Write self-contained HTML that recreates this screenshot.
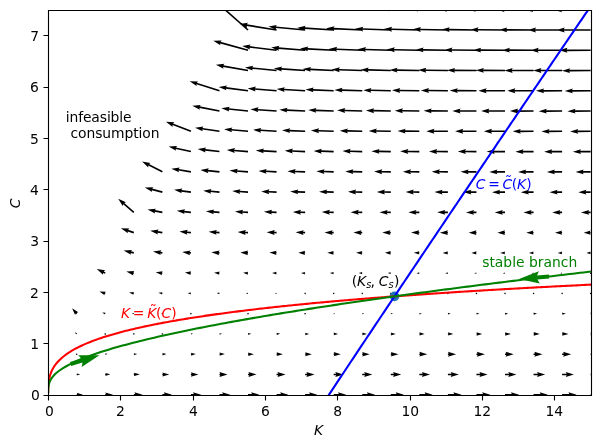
<!DOCTYPE html>
<html lang="en"><head><meta charset="utf-8"><title>Phase diagram</title>
<style>html,body{margin:0;padding:0;background:#fff}svg{display:block;will-change:transform}text{font-family:'DejaVu Sans','Liberation Sans',sans-serif;font-size:13.8889px;white-space:pre}.i{font-style:oblique}</style></head><body>
<svg width="600" height="448" viewBox="0 0 600 448">
<rect width="600" height="448" fill="#fff"/>
<clipPath id="ax"><rect x="48" y="10" width="543" height="385"/></clipPath>
<g clip-path="url(#ax)">
<path fill="#000" d="M76.71 394.1L77.33 394.1L76.71 392.85L82.95 394.72L76.71 396.6L77.33 395.35L76.71 395.35L76.71 394.1ZM105.26 393.94L106.04 393.94L105.26 392.39L113.03 394.72L105.26 397.05L106.04 395.5L105.26 395.5L105.26 393.94ZM133.81 393.91L135.29 393.91L134.48 392.28L142.62 394.72L134.48 397.16L135.29 395.54L133.81 395.54L133.81 393.91ZM162.36 393.91L164.65 393.91L163.83 392.28L171.97 394.72L163.83 397.16L164.65 395.54L162.36 395.54L162.36 393.91ZM190.92 393.91L193.86 393.91L193.05 392.28L201.18 394.72L193.05 397.16L193.86 395.54L190.92 395.54L190.92 393.91ZM219.47 393.91L222.97 393.91L222.16 392.28L230.3 394.72L222.16 397.16L222.97 395.54L219.47 395.54L219.47 393.91ZM248.02 393.91L252.02 393.91L251.2 392.28L259.34 394.72L251.2 397.16L252.02 395.54L248.02 395.54L248.02 393.91ZM276.57 393.91L281.01 393.91L280.19 392.28L288.33 394.72L280.19 397.16L281.01 395.54L276.57 395.54L276.57 393.91ZM305.13 393.91L309.95 393.91L309.14 392.28L317.27 394.72L309.14 397.16L309.95 395.54L305.13 395.54L305.13 393.91ZM333.68 393.91L338.86 393.91L338.05 392.28L346.18 394.72L338.05 397.16L338.86 395.54L333.68 395.54L333.68 393.91ZM362.23 393.91L367.74 393.91L366.92 392.28L375.06 394.72L366.92 397.16L367.74 395.54L362.23 395.54L362.23 393.91ZM390.78 393.91L396.59 393.91L395.78 392.28L403.91 394.72L395.78 397.16L396.59 395.54L390.78 395.54L390.78 393.91ZM419.34 393.91L425.42 393.91L424.61 392.28L432.74 394.72L424.61 397.16L425.42 395.54L419.34 395.54L419.34 393.91ZM447.89 393.91L454.23 393.91L453.42 392.28L461.55 394.72L453.42 397.16L454.23 395.54L447.89 395.54L447.89 393.91ZM476.44 393.91L483.03 393.91L482.21 392.28L490.35 394.72L482.21 397.16L483.03 395.54L476.44 395.54L476.44 393.91ZM504.99 393.91L511.8 393.91L510.99 392.28L519.13 394.72L510.99 397.16L511.8 395.54L504.99 395.54L504.99 393.91ZM533.55 393.91L540.57 393.91L539.75 392.28L547.89 394.72L539.75 397.16L540.57 395.54L533.55 395.54L533.55 393.91ZM562.1 393.91L569.32 393.91L568.51 392.28L576.64 394.72L568.51 397.16L569.32 395.54L562.1 395.54L562.1 393.91ZM590.65 393.91L598.06 393.91L597.25 392.28L605.39 394.72L597.25 397.16L598.06 395.54L590.65 395.54L590.65 393.91ZM76.68 374.11L77.03 374.08L76.63 373.4L80.24 374.21L76.78 375.52L77.08 374.79L76.73 374.81L76.68 374.11ZM105.24 373.95L105.75 373.94L105.21 372.94L110.32 374.31L105.3 375.98L105.78 374.95L105.27 374.97L105.24 373.95ZM133.8 373.85L134.41 373.84L133.78 372.63L139.91 374.36L133.84 376.29L134.43 375.06L133.82 375.07L133.8 373.85ZM162.36 373.77L163.05 373.76L162.34 372.39L169.26 374.39L162.38 376.53L163.06 375.14L162.37 375.15L162.36 373.77ZM190.91 373.7L191.67 373.7L190.9 372.19L198.47 374.41L190.93 376.73L191.68 375.21L190.92 375.21L190.91 373.7ZM219.47 373.65L220.28 373.64L219.46 372.02L227.59 374.42L219.48 376.89L220.28 375.27L219.47 375.27L219.47 373.65ZM248.02 373.65L249.3 373.64L248.48 372.02L256.63 374.43L248.5 376.9L249.31 375.27L248.02 375.27L248.02 373.65ZM276.57 373.65L278.29 373.64L277.48 372.02L285.62 374.44L277.48 376.9L278.29 375.27L276.58 375.27L276.57 373.65ZM305.13 373.65L307.24 373.64L306.42 372.02L314.56 374.45L306.43 376.9L307.24 375.27L305.13 375.27L305.13 373.65ZM333.68 373.65L336.15 373.64L335.33 372.02L343.47 374.46L335.33 376.9L336.15 375.27L333.68 375.27L333.68 373.65ZM362.23 373.65L365.03 373.65L364.21 372.02L372.35 374.46L364.21 376.9L365.02 375.27L362.23 375.27L362.23 373.65ZM390.79 373.65L393.88 373.65L393.07 372.02L401.2 374.47L393.06 376.9L393.88 375.28L390.78 375.27L390.79 373.65ZM419.34 373.65L422.71 373.65L421.9 372.02L430.03 374.47L421.89 376.9L422.71 375.28L419.34 375.27L419.34 373.65ZM447.89 373.65L451.52 373.65L450.71 372.02L458.84 374.48L450.7 376.9L451.52 375.28L447.89 375.27L447.89 373.65ZM476.44 373.65L480.31 373.65L479.5 372.02L487.64 374.48L479.49 376.91L480.31 375.28L476.44 375.27L476.44 373.65ZM505 373.65L509.09 373.65L508.28 372.02L516.41 374.48L508.27 376.91L509.09 375.28L504.99 375.27L505 373.65ZM533.55 373.65L537.86 373.65L537.05 372.03L545.18 374.48L537.04 376.91L537.85 375.28L533.55 375.27L533.55 373.65ZM562.1 373.65L566.61 373.66L565.8 372.03L573.93 374.49L565.79 376.91L566.61 375.28L562.1 375.27L562.1 373.65ZM590.65 373.65L595.35 373.66L594.54 372.03L602.67 374.49L594.53 376.91L595.35 375.28L590.65 375.27L590.65 373.65ZM77.33 353.68L76.57 353.39L75.94 353.91L76.08 354.71L76.84 355L77.47 354.48L77.33 353.68L76.57 353.39ZM105.22 353.96L105.46 353.93L105.15 353.49L107.61 353.85L105.36 354.9L105.53 354.4L105.29 354.43L105.22 353.96ZM133.79 353.86L134.13 353.83L133.74 353.18L137.19 353.97L133.88 355.21L134.17 354.51L133.83 354.53L133.79 353.86ZM162.35 353.78L162.77 353.76L162.32 352.94L166.55 354.04L162.41 355.45L162.8 354.6L162.38 354.61L162.35 353.78ZM190.9 353.71L191.39 353.7L190.88 352.74L195.76 354.08L190.95 355.65L191.41 354.67L190.93 354.68L190.9 353.71ZM219.46 353.66L220 353.65L219.44 352.57L224.87 354.11L219.49 355.82L220.02 354.73L219.48 354.74L219.46 353.66ZM248.02 353.61L248.6 353.6L248 352.43L253.92 354.14L248.04 355.96L248.62 354.78L248.03 354.79L248.02 353.61ZM276.57 353.56L277.2 353.56L276.56 352.3L282.9 354.16L276.59 356.1L277.21 354.83L276.58 354.83L276.57 353.56ZM305.12 353.52L305.8 353.52L305.12 352.18L311.85 354.17L305.13 356.21L305.8 354.87L305.13 354.87L305.12 353.52ZM333.68 353.49L334.39 353.49L333.68 352.07L340.76 354.19L333.68 356.32L334.39 354.9L333.68 354.9L333.68 353.49ZM362.23 353.46L362.97 353.46L362.23 351.97L369.64 354.2L362.23 356.42L362.97 354.94L362.23 354.94L362.23 353.46ZM390.79 353.43L391.56 353.43L390.79 351.88L398.49 354.21L390.78 356.51L391.55 354.97L390.78 354.97L390.79 353.43ZM419.34 353.4L420.14 353.4L419.34 351.8L427.32 354.22L419.33 356.59L420.13 355L419.33 354.99L419.34 353.4ZM447.89 353.38L448.81 353.39L448 351.76L456.13 354.22L447.98 356.64L448.8 355.01L447.89 355.01L447.89 353.38ZM476.45 353.38L477.6 353.39L476.8 351.76L484.92 354.23L476.78 356.64L477.6 355.01L476.44 355.01L476.45 353.38ZM505 353.38L506.38 353.39L505.58 351.76L513.7 354.24L505.55 356.64L506.37 355.02L504.99 355.01L505 353.38ZM533.55 353.38L535.15 353.39L534.34 351.76L542.47 354.24L534.32 356.64L535.14 355.02L533.54 355.01L533.55 353.38ZM562.1 353.38L563.9 353.39L563.1 351.76L571.22 354.25L563.07 356.64L563.89 355.02L562.1 355.01L562.1 353.38ZM590.66 353.38L592.64 353.39L591.84 351.76L599.96 354.25L591.81 356.64L592.63 355.02L590.65 355.01L590.66 353.38ZM76.55 334.12L76.36 333.97L76.24 334.5L74.82 332.37L77.17 333.37L76.67 333.59L76.86 333.74L76.55 334.12ZM104.86 333.22L104.44 333.92L104.84 334.63L105.65 334.64L106.07 333.94L105.68 333.23L104.86 333.22L104.44 333.92ZM134.51 333.51L133.79 333.12L133.1 333.54L133.11 334.35L133.83 334.75L134.52 334.32L134.51 333.51L133.79 333.12ZM163.16 333.78L162.63 333.16L161.83 333.32L161.56 334.08L162.1 334.7L162.89 334.55L163.16 333.78L162.63 333.16ZM190.9 333.72L191.11 333.7L190.86 333.29L193.05 333.73L190.98 334.57L191.15 334.13L190.94 334.15L190.9 333.72ZM219.45 333.66L219.72 333.65L219.43 333.13L222.16 333.79L219.51 334.74L219.75 334.19L219.48 334.2L219.45 333.66ZM248.01 333.61L248.33 333.6L247.99 332.98L251.2 333.83L248.05 334.89L248.35 334.24L248.03 334.25L248.01 333.61ZM276.57 333.57L276.93 333.56L276.55 332.85L280.19 333.86L276.6 335.02L276.94 334.29L276.58 334.29L276.57 333.57ZM305.12 333.53L305.52 333.53L305.11 332.73L309.14 333.89L305.14 335.14L305.53 334.33L305.13 334.33L305.12 333.53ZM333.68 333.5L334.11 333.49L333.67 332.62L338.05 333.91L333.69 335.24L334.12 334.37L333.68 334.37L333.68 333.5ZM362.23 333.46L362.7 333.46L362.23 332.53L366.92 333.93L362.23 335.34L362.7 334.4L362.23 334.4L362.23 333.46ZM390.79 333.43L391.28 333.43L390.79 332.44L395.78 333.94L390.78 335.43L391.28 334.43L390.78 334.43L390.79 333.43ZM419.34 333.41L419.87 333.41L419.34 332.35L424.61 333.96L419.33 335.51L419.86 334.46L419.33 334.46L419.34 333.41ZM447.89 333.38L448.45 333.38L447.9 332.27L453.42 333.97L447.88 335.59L448.44 334.49L447.89 334.49L447.89 333.38ZM476.45 333.36L477.02 333.36L476.46 332.2L482.21 333.98L476.43 335.66L477.01 334.51L476.44 334.51L476.45 333.36ZM505 333.33L505.6 333.34L505.01 332.13L510.99 333.99L504.98 335.73L505.59 334.54L504.99 334.53L505 333.33ZM533.55 333.31L534.17 333.32L533.57 332.07L539.75 334L533.53 335.79L534.16 334.56L533.54 334.55L533.55 333.31ZM562.11 333.29L562.75 333.3L562.12 332.01L568.51 334.01L562.08 335.85L562.73 334.58L562.09 334.57L562.11 333.29ZM590.66 333.27L591.32 333.28L590.68 331.95L597.25 334.01L590.63 335.91L591.3 334.6L590.64 334.59L590.66 333.27ZM76.17 314.13L75.71 313.59L75.1 315.05L72.1 308.31L78.31 312.29L76.78 312.67L77.24 313.21L76.17 314.13ZM105.14 313.98L104.84 313.86L104.92 314.59L102.18 312.54L105.6 312.75L105.06 313.25L105.37 313.36L105.14 313.98ZM133.75 313.87L133.54 313.81L133.62 314.28L131.77 313.02L134.01 313.06L133.67 313.4L133.88 313.47L133.75 313.87ZM161.6 313.4L161.75 314.2L162.51 314.47L163.13 313.94L162.98 313.14L162.21 312.87L161.6 313.4L161.75 314.2ZM190.2 313.29L190.23 314.1L190.94 314.48L191.63 314.05L191.61 313.24L190.89 312.86L190.2 313.29L190.23 314.1ZM219.4 312.86L218.73 313.33L218.8 314.14L219.54 314.48L220.21 314.01L220.13 313.2L219.4 312.86L218.73 313.33ZM248.79 313.41L248.18 312.87L247.41 313.13L247.25 313.93L247.86 314.47L248.63 314.2L248.79 313.41L248.18 312.87ZM277.38 313.57L276.89 312.92L276.08 313.02L275.77 313.77L276.26 314.42L277.06 314.32L277.38 313.57L276.89 312.92ZM305.94 313.62L305.49 312.94L304.68 312.99L304.31 313.72L304.76 314.4L305.57 314.35L305.94 313.62L305.49 312.94ZM333.67 313.5L333.84 313.5L333.67 313.17L335.33 313.63L333.69 314.17L333.85 313.83L333.68 313.83L333.67 313.5ZM362.23 313.47L362.43 313.47L362.23 313.08L364.21 313.65L362.24 314.26L362.43 313.87L362.23 313.87L362.23 313.47ZM390.78 313.44L391.01 313.44L390.79 312.99L393.06 313.68L390.78 314.35L391.01 313.9L390.78 313.9L390.78 313.44ZM419.34 313.41L419.6 313.42L419.34 312.9L421.89 313.7L419.33 314.44L419.59 313.93L419.33 313.93L419.34 313.41ZM447.89 313.39L448.18 313.39L447.9 312.82L450.71 313.71L447.88 314.51L448.17 313.96L447.89 313.95L447.89 313.39ZM476.45 313.36L476.75 313.37L476.46 312.75L479.5 313.73L476.42 314.59L476.74 313.98L476.44 313.98L476.45 313.36ZM505 313.34L505.33 313.35L505.02 312.68L508.28 313.74L504.97 314.65L505.32 314L504.99 314L505 313.34ZM533.56 313.32L533.91 313.33L533.57 312.62L537.04 313.75L533.52 314.72L533.89 314.03L533.54 314.02L533.56 313.32ZM562.11 313.3L562.48 313.31L562.13 312.56L565.79 313.76L562.07 314.78L562.46 314.05L562.09 314.04L562.11 313.3ZM590.66 313.28L591.05 313.29L590.68 312.5L594.54 313.77L590.62 314.83L591.03 314.07L590.64 314.06L590.66 313.28ZM105.06 293.99L104.48 293.79L104.66 295.14L99.47 291.41L105.86 291.67L104.88 292.63L105.46 292.83L105.06 293.99ZM133.71 293.88L133.24 293.78L133.51 294.83L129.06 292.41L134.11 291.98L133.44 292.83L133.91 292.93L133.71 293.88ZM162.3 293.8L161.9 293.74L162.17 294.59L158.41 292.76L162.56 292.22L162.03 292.95L162.43 293.01L162.3 293.8ZM190.87 293.74L190.54 293.69L190.78 294.39L187.62 292.96L191.05 292.42L190.63 293.03L190.96 293.08L190.87 293.74ZM219.44 293.68L219.16 293.65L219.37 294.23L216.74 293.08L219.57 292.59L219.23 293.1L219.5 293.13L219.44 293.68ZM248 293.63L247.77 293.61L247.95 294.08L245.78 293.17L248.09 292.73L247.82 293.16L248.04 293.18L248 293.63ZM276.56 293.59L276.38 293.57L276.52 293.95L274.77 293.24L276.62 292.86L276.41 293.21L276.59 293.23L276.56 293.59ZM304.32 293.34L304.66 294.08L305.48 294.14L305.94 293.47L305.59 292.74L304.78 292.67L304.32 293.34L304.66 294.08ZM332.87 293.35L333.23 294.08L334.04 294.14L334.49 293.46L334.13 292.73L333.32 292.68L332.87 293.35L333.23 294.08ZM361.42 293.37L361.79 294.09L362.6 294.13L363.04 293.45L362.67 292.72L361.86 292.68L361.42 293.37L361.79 294.09ZM389.97 293.4L390.37 294.11L391.18 294.12L391.6 293.42L391.2 292.71L390.39 292.7L389.97 293.4L390.37 294.11ZM418.53 293.51L419.03 294.16L419.83 294.05L420.14 293.3L419.65 292.65L418.84 292.76L418.53 293.51L419.03 294.16ZM448.64 293.72L448.54 292.91L447.79 292.6L447.14 293.09L447.24 293.9L447.99 294.21L448.64 293.72L448.54 292.91ZM477.24 293.55L476.97 292.79L476.17 292.64L475.64 293.26L475.91 294.03L476.71 294.17L477.24 293.55L476.97 292.79ZM505.8 293.52L505.5 292.77L504.69 292.65L504.19 293.29L504.49 294.05L505.3 294.16L505.8 293.52L505.5 292.77ZM534.36 293.51L534.04 292.76L533.23 292.66L532.74 293.31L533.06 294.06L533.86 294.16L534.36 293.51L534.04 292.76ZM562.91 293.5L562.58 292.75L561.78 292.66L561.29 293.31L561.62 294.06L562.42 294.15L562.91 293.5L562.58 292.75ZM591.46 293.49L591.13 292.75L590.32 292.66L589.84 293.32L590.17 294.06L590.98 294.15L591.46 293.49L591.13 292.75ZM104.9 273.87L102.98 272.94L103 274.76L96.76 268.99L105.14 270.37L103.69 271.47L105.61 272.41L104.9 273.87ZM133.66 273.89L132.91 273.74L133.35 275.38L126.34 271.62L134.27 270.9L133.22 272.24L133.96 272.4L133.66 273.89ZM162.27 273.81L161.6 273.72L162.09 275.14L155.7 272.22L162.64 271.14L161.79 272.38L162.46 272.48L162.27 273.81ZM190.85 273.74L190.25 273.68L190.73 274.95L184.91 272.51L191.1 271.34L190.38 272.48L190.98 272.54L190.85 273.74ZM219.42 273.69L218.88 273.64L219.33 274.78L214.02 272.69L219.6 271.51L218.97 272.55L219.51 272.6L219.42 273.69ZM247.99 273.64L247.49 273.61L247.92 274.63L243.07 272.82L248.12 271.66L247.56 272.62L248.05 272.65L247.99 273.64ZM276.55 273.6L276.1 273.57L276.5 274.5L272.06 272.91L276.64 271.79L276.15 272.67L276.6 272.69L276.55 273.6ZM305.11 273.56L304.7 273.54L305.08 274.38L301 272.98L305.18 271.91L304.73 272.71L305.14 272.73L305.11 273.56ZM333.67 273.52L333.29 273.51L333.65 274.27L329.91 273.03L333.71 272.01L333.31 272.76L333.69 272.77L333.67 273.52ZM362.23 273.49L361.88 273.48L362.21 274.18L358.79 273.08L362.25 272.11L361.89 272.79L362.24 272.8L362.23 273.49ZM390.78 273.46L390.47 273.46L390.78 274.09L387.64 273.12L390.79 272.2L390.47 272.83L390.79 272.83L390.78 273.46ZM419.34 273.43L419.05 273.43L419.34 274L416.47 273.15L419.33 272.28L419.05 272.86L419.34 272.86L419.34 273.43ZM447.89 273.4L447.63 273.41L447.9 273.93L445.28 273.18L447.88 272.36L447.62 272.89L447.89 272.88L447.89 273.4ZM476.45 273.38L476.21 273.39L476.46 273.85L474.07 273.21L476.42 272.43L476.2 272.91L476.44 272.91L476.45 273.38ZM505 273.36L504.79 273.37L505.02 273.79L502.85 273.23L504.97 272.5L504.77 272.94L504.99 272.93L505 273.36ZM533.56 273.34L533.37 273.35L533.58 273.72L531.62 273.25L533.52 272.56L533.34 272.96L533.54 272.95L533.56 273.34ZM562.11 273.32L561.94 273.33L562.14 273.66L560.37 273.27L562.06 272.62L561.91 272.98L562.09 272.97L562.11 273.32ZM589.84 273.22L590.31 273.88L591.12 273.81L591.46 273.07L590.99 272.4L590.18 272.48L589.84 273.22L590.31 273.88ZM133.62 253.67L130.57 252.95L130.99 254.72L123.63 250.46L132.11 249.97L130.95 251.36L134 252.09L133.62 253.67ZM162.25 253.69L160.13 253.39L160.71 255.11L152.99 251.57L161.38 250.28L160.35 251.78L162.48 252.07L162.25 253.69ZM190.84 253.69L189.4 253.55L190.05 255.25L182.2 252.02L190.54 250.39L189.56 251.93L191 252.07L190.84 253.69ZM219.41 253.69L218.55 253.63L219.24 255.31L211.31 252.27L219.61 250.44L218.68 252L219.53 252.07L219.41 253.69ZM247.98 253.65L247.21 253.6L247.89 255.18L240.35 252.44L248.15 250.58L247.3 252.07L248.07 252.11L247.98 253.65ZM276.54 253.6L275.82 253.57L276.48 255.05L269.34 252.56L276.67 250.71L275.88 252.12L276.61 252.16L276.54 253.6ZM305.1 253.56L304.42 253.54L305.06 254.93L298.29 252.65L305.2 250.83L304.47 252.17L305.15 252.2L305.1 253.56ZM333.66 253.53L333.02 253.51L333.63 254.83L327.2 252.72L333.73 250.94L333.05 252.22L333.69 252.23L333.66 253.53ZM362.22 253.5L361.61 253.49L362.2 254.73L356.07 252.78L362.26 251.03L361.63 252.25L362.24 252.26L362.22 253.5ZM390.78 253.47L390.19 253.46L390.77 254.64L384.93 252.83L390.8 251.12L390.2 252.29L390.79 252.29L390.78 253.47ZM419.34 253.44L418.78 253.44L419.34 254.55L413.76 252.87L419.34 251.21L418.78 252.32L419.34 252.32L419.34 253.44ZM447.89 253.41L447.36 253.42L447.9 254.48L442.57 252.91L447.88 251.28L447.35 252.35L447.89 252.35L447.89 253.41ZM476.45 253.39L475.94 253.39L476.46 254.4L471.36 252.94L476.42 251.36L475.93 252.38L476.44 252.37L476.45 253.39ZM505 253.37L504.52 253.37L505.02 254.34L500.14 252.97L504.97 251.42L504.5 252.4L504.99 252.39L505 253.37ZM533.56 253.34L533.09 253.36L533.58 254.27L528.91 252.99L533.51 251.49L533.07 252.43L533.54 252.42L533.56 253.34ZM562.11 253.32L561.67 253.34L562.14 254.21L557.66 253.02L562.06 251.55L561.64 252.45L562.09 252.44L562.11 253.32ZM590.67 253.31L590.24 253.32L590.7 254.16L586.4 253.04L590.61 251.6L590.21 252.47L590.64 252.45L590.67 253.31ZM133.55 233.39L127.61 231.41L127.87 233.21L120.92 228.32L129.41 228.58L128.12 229.86L134.07 231.84L133.55 233.39ZM162.24 233.42L157.38 232.66L157.94 234.4L150.27 230.73L158.69 229.57L157.63 231.06L162.49 231.81L162.24 233.42ZM190.83 233.43L186.69 233L187.33 234.7L179.48 231.44L187.83 229.85L186.85 231.38L191 231.81L190.83 233.43ZM219.41 233.43L215.84 233.16L216.53 234.85L208.6 231.81L216.9 229.98L215.96 231.54L219.53 231.81L219.41 233.43ZM247.98 233.43L244.91 233.26L245.63 234.93L237.64 232.03L245.9 230.05L245 231.63L248.07 231.8L247.98 233.43ZM276.54 233.43L273.91 233.32L274.66 234.98L266.63 232.19L274.86 230.1L273.98 231.69L276.61 231.8L276.54 233.43ZM305.1 233.43L302.87 233.36L303.63 235.01L295.57 232.31L303.79 230.13L302.92 231.73L305.15 231.8L305.1 233.43ZM333.66 233.43L331.79 233.39L332.56 235.03L324.48 232.4L332.68 230.15L331.82 231.76L333.7 231.8L333.66 233.43ZM362.22 233.43L360.67 233.41L361.46 235.05L353.36 232.48L361.54 230.16L360.7 231.78L362.24 231.8L362.22 233.43ZM390.78 233.43L389.53 233.42L390.33 235.05L382.21 232.54L390.37 230.17L389.55 231.79L390.79 231.8L390.78 233.43ZM419.33 233.43L418.37 233.43L419.17 235.06L411.04 232.59L419.19 230.18L418.37 231.8L419.34 231.8L419.33 233.43ZM447.89 233.42L447.09 233.42L447.89 235.03L439.86 232.63L447.88 230.21L447.08 231.82L447.89 231.81L447.89 233.42ZM476.45 233.4L475.67 233.4L476.46 234.95L468.65 232.67L476.43 230.28L475.66 231.84L476.44 231.84L476.45 233.4ZM505 233.37L504.25 233.38L505.02 234.89L497.43 232.7L504.97 230.35L504.23 231.87L504.99 231.86L505 233.37ZM533.56 233.35L532.82 233.36L533.58 234.82L526.19 232.73L533.51 230.41L532.8 231.89L533.54 231.88L533.56 233.35ZM562.11 233.33L561.4 233.35L562.14 234.76L554.95 232.76L562.06 230.47L561.37 231.92L562.09 231.9L562.11 233.33ZM590.67 233.31L589.97 233.33L590.7 234.71L583.69 232.79L590.6 230.53L589.94 231.94L590.64 231.92L590.67 233.31ZM133.28 212.97L123.2 204.2L122.74 205.96L118.21 198.78L125.95 202.28L124.27 202.97L134.34 211.74L133.28 212.97ZM162.21 213.15L154.6 211.71L155.1 213.46L147.56 209.54L156.01 208.66L154.91 210.11L162.52 211.55L162.21 213.15ZM190.82 213.16L183.96 212.38L184.58 214.09L176.77 210.75L185.13 209.24L184.14 210.77L191.01 211.55L190.82 213.16ZM219.4 213.17L213.12 212.67L213.81 214.36L205.89 211.28L214.19 209.49L213.25 211.05L219.53 211.54L219.4 213.17ZM247.97 213.17L242.19 212.83L242.91 214.5L234.93 211.59L243.2 209.63L242.29 211.21L248.07 211.54L247.97 213.17ZM276.54 213.17L271.2 212.93L271.94 214.59L263.92 211.8L272.15 209.72L271.27 211.31L276.61 211.54L276.54 213.17ZM305.1 213.17L300.16 213L300.92 214.66L292.86 211.95L301.08 209.78L300.21 211.38L305.15 211.54L305.1 213.17ZM333.66 213.17L329.07 213.06L329.85 214.7L321.77 212.07L329.96 209.82L329.11 211.43L333.7 211.54L333.66 213.17ZM362.22 213.17L357.96 213.1L358.74 214.74L350.65 212.16L358.83 209.85L357.99 211.47L362.25 211.54L362.22 213.17ZM390.78 213.17L386.82 213.12L387.61 214.76L379.5 212.23L387.66 209.88L386.83 211.5L390.79 211.54L390.78 213.17ZM419.33 213.17L415.65 213.15L416.46 214.78L408.33 212.3L416.48 209.9L415.66 211.52L419.34 211.54L419.33 213.17ZM447.89 213.17L444.47 213.17L445.28 214.79L437.14 212.35L445.28 209.91L444.47 211.54L447.89 211.54L447.89 213.17ZM476.45 213.17L473.26 213.18L474.08 214.8L465.94 212.39L474.06 209.92L473.26 211.55L476.44 211.54L476.45 213.17ZM505 213.17L502.05 213.19L502.87 214.81L494.72 212.43L502.83 209.93L502.03 211.56L504.99 211.54L505 213.17ZM533.56 213.17L530.81 213.2L531.65 214.82L523.48 212.47L531.59 209.94L530.79 211.57L533.54 211.54L533.56 213.17ZM562.11 213.17L559.57 213.21L560.41 214.82L552.23 212.5L560.33 209.94L559.54 211.58L562.09 211.54L562.11 213.17ZM590.67 213.17L588.31 213.21L589.15 214.82L580.97 212.53L589.07 209.94L588.28 211.58L590.64 211.54L590.67 213.17ZM162.16 192.88L151.72 190.14L152.1 191.92L144.85 187.49L153.34 187.2L152.14 188.56L162.57 191.3L162.16 192.88ZM190.81 192.9L181.21 191.63L181.81 193.35L174.06 189.87L182.45 188.51L181.43 190.02L191.02 191.28L190.81 192.9ZM219.4 192.9L210.4 192.12L211.07 193.81L203.17 190.68L211.49 188.95L210.54 190.5L219.54 191.28L219.4 192.9ZM247.97 192.9L239.48 192.37L240.19 194.05L232.22 191.1L240.49 189.17L239.58 190.75L248.07 191.28L247.97 192.9ZM276.54 192.9L268.48 192.53L269.22 194.19L261.21 191.38L269.45 189.32L268.56 190.9L276.61 191.28L276.54 192.9ZM305.1 192.9L297.44 192.64L298.2 194.29L290.15 191.57L298.37 189.41L297.5 191.01L305.15 191.28L305.1 192.9ZM333.66 192.9L326.36 192.72L327.13 194.36L319.06 191.71L327.26 189.48L326.4 191.09L333.7 191.28L333.66 192.9ZM362.22 192.9L355.24 192.78L356.03 194.42L347.94 191.83L356.12 189.54L355.27 191.15L362.25 191.28L362.22 192.9ZM390.77 192.9L384.1 192.82L384.9 194.46L376.79 191.92L384.96 189.58L384.12 191.19L390.79 191.28L390.77 192.9ZM419.33 192.9L412.94 192.86L413.74 194.49L405.62 191.99L413.77 189.61L412.95 191.23L419.34 191.28L419.33 192.9ZM447.89 192.9L441.75 192.89L442.56 194.52L434.43 192.06L442.57 189.64L441.76 191.26L447.89 191.28L447.89 192.9ZM476.44 192.9L470.55 192.91L471.37 194.54L463.22 192.11L471.36 189.66L470.55 191.29L476.44 191.28L476.44 192.9ZM505 192.9L499.33 192.93L500.15 194.56L492 192.16L500.13 189.68L499.32 191.31L504.99 191.28L505 192.9ZM533.55 192.9L528.1 192.95L528.93 194.57L520.77 192.2L528.88 189.69L528.08 191.32L533.54 191.28L533.55 192.9ZM562.11 192.9L556.85 192.97L557.69 194.58L549.52 192.24L557.63 189.7L556.83 191.34L562.09 191.28L562.11 192.9ZM590.66 192.9L585.6 192.98L586.43 194.59L578.26 192.27L586.36 189.71L585.57 191.35L590.64 191.28L590.66 192.9ZM161.99 172.55L148.29 165.56L148.27 167.38L142.14 161.51L150.49 163.03L149.03 164.11L162.73 171.1L161.99 172.55ZM190.79 172.63L178.44 170.62L178.99 172.36L171.35 168.64L179.77 167.54L178.71 169.01L191.05 171.02L190.79 172.63ZM219.39 172.64L207.67 171.48L208.32 173.18L200.46 169.95L208.8 168.32L207.83 169.86L219.55 171.02L219.39 172.64ZM247.97 172.64L236.76 171.87L237.46 173.55L229.5 170.56L237.79 168.68L236.87 170.25L248.08 171.02L247.97 172.64ZM276.53 172.64L265.77 172.1L266.5 173.77L258.49 170.92L266.74 168.89L265.85 170.47L276.61 171.01L276.53 172.64ZM305.1 172.64L294.73 172.25L295.48 173.91L287.44 171.16L295.66 169.03L294.79 170.63L305.16 171.01L305.1 172.64ZM333.66 172.64L323.64 172.36L324.41 174.01L316.35 171.34L324.55 169.13L323.69 170.74L333.7 171.01L333.66 172.64ZM362.22 172.64L352.53 172.44L353.31 174.09L345.22 171.48L353.41 169.21L352.56 170.82L362.25 171.01L362.22 172.64ZM390.77 172.64L381.39 172.51L382.18 174.15L374.08 171.59L382.25 169.27L381.41 170.88L390.8 171.01L390.77 172.64ZM419.33 172.64L410.22 172.56L411.02 174.2L402.91 171.68L411.07 169.31L410.24 170.93L419.34 171.01L419.33 172.64ZM447.89 172.64L439.04 172.6L439.85 174.23L431.72 171.76L439.87 169.35L439.05 170.98L447.89 171.01L447.89 172.64ZM476.44 172.64L467.84 172.64L468.65 174.27L460.51 171.82L468.65 169.38L467.84 171.01L476.44 171.01L476.44 172.64ZM505 172.64L496.62 172.67L497.44 174.29L489.29 171.88L497.42 169.41L496.61 171.04L504.99 171.01L505 172.64ZM533.55 172.64L525.38 172.69L526.21 174.32L518.06 171.93L526.18 169.43L525.37 171.07L533.54 171.01L533.55 172.64ZM562.11 172.64L554.14 172.72L554.97 174.34L546.81 171.97L554.92 169.45L554.12 171.09L562.09 171.01L562.11 172.64ZM590.66 172.64L582.88 172.74L583.72 174.35L575.55 172.01L583.66 169.47L582.86 171.11L590.64 171.01L590.66 172.64ZM190.74 152.36L175.61 149L176.05 150.76L168.63 146.61L177.11 146L175.96 147.41L191.09 150.77L190.74 152.36ZM219.37 152.37L204.93 150.68L205.55 152.39L197.75 149.02L206.11 147.55L205.12 149.07L219.56 150.76L219.37 152.37ZM247.96 152.38L234.03 151.3L234.72 152.98L226.79 149.92L235.09 148.11L234.16 149.67L248.08 150.75L247.96 152.38ZM276.53 152.38L263.05 151.63L263.77 153.3L255.78 150.41L264.04 148.42L263.14 150L276.62 150.75L276.53 152.38ZM305.09 152.38L292.01 151.84L292.76 153.5L284.73 150.73L292.96 148.62L292.08 150.21L305.16 150.75L305.09 152.38ZM333.65 152.38L320.93 151.99L321.69 153.64L313.63 150.95L321.84 148.76L320.98 150.36L333.7 150.75L333.65 152.38ZM362.21 152.38L349.82 152.1L350.59 153.74L342.51 151.12L350.7 148.86L349.85 150.47L362.25 150.75L362.21 152.38ZM390.77 152.38L378.67 152.19L379.46 153.83L371.36 151.25L379.54 148.94L378.7 150.56L390.8 150.75L390.77 152.38ZM419.33 152.38L407.51 152.25L408.31 153.89L400.19 151.36L408.36 149.01L407.53 150.63L419.35 150.75L419.33 152.38ZM447.88 152.38L436.32 152.31L437.13 153.94L429.01 151.45L437.16 149.06L436.33 150.68L447.89 150.75L447.88 152.38ZM476.44 152.38L465.12 152.36L465.93 153.98L457.8 151.53L465.94 149.1L465.12 150.73L476.44 150.75L476.44 152.38ZM505 152.38L493.9 152.4L494.72 154.02L486.58 151.59L494.71 149.14L493.9 150.77L504.99 150.75L505 152.38ZM533.55 152.38L522.67 152.43L523.49 154.05L515.34 151.65L523.47 149.17L522.66 150.8L533.54 150.75L533.55 152.38ZM562.11 152.38L551.42 152.46L552.25 154.08L544.1 151.7L552.21 149.2L551.41 150.83L562.09 150.75L562.11 152.38ZM590.66 152.38L580.17 152.48L581 154.1L572.84 151.74L580.95 149.22L580.15 150.86L590.64 150.75L590.66 152.38ZM190.62 132.06L172.47 125.09L172.64 126.9L165.92 121.71L174.39 122.35L173.05 123.57L191.21 130.54L190.62 132.06ZM219.35 132.11L202.17 129.61L202.74 131.34L195.04 127.75L203.44 126.51L202.4 128L219.59 130.5L219.35 132.11ZM247.95 132.11L231.3 130.62L231.97 132.31L224.08 129.16L232.4 127.45L231.45 129L248.09 130.49L247.95 132.11ZM276.52 132.11L260.33 131.1L261.04 132.78L253.07 129.84L261.34 127.91L260.43 129.48L276.62 130.49L276.52 132.11ZM305.09 132.11L289.29 131.4L290.03 133.06L282.01 130.25L290.25 128.18L289.37 129.77L305.16 130.49L305.09 132.11ZM333.65 132.11L318.21 131.59L318.97 133.25L310.92 130.53L319.14 128.37L318.27 129.97L333.71 130.49L333.65 132.11ZM362.21 132.11L347.1 131.74L347.87 133.38L339.8 130.74L348 128.5L347.14 130.11L362.25 130.49L362.21 132.11ZM390.77 132.11L375.96 131.85L376.74 133.49L368.65 130.9L376.83 128.61L375.99 130.22L390.8 130.49L390.77 132.11ZM419.33 132.11L404.8 131.93L405.59 133.57L397.48 131.03L405.65 128.69L404.82 130.31L419.35 130.49L419.33 132.11ZM447.88 132.11L433.61 132.01L434.41 133.64L426.29 131.14L434.45 128.76L433.62 130.38L447.9 130.49L447.88 132.11ZM476.44 132.11L462.41 132.06L463.22 133.69L455.09 131.22L463.23 128.81L462.41 130.44L476.45 130.49L476.44 132.11ZM504.99 132.11L491.19 132.11L492 133.74L483.87 131.3L492 128.86L491.19 130.49L504.99 130.49L504.99 132.11ZM533.55 132.11L519.96 132.16L520.78 133.78L512.63 131.36L520.76 128.9L519.95 130.53L533.55 130.49L533.55 132.11ZM562.1 132.11L548.71 132.19L549.53 133.82L541.38 131.42L549.51 128.93L548.7 130.57L562.1 130.49L562.1 132.11ZM590.66 132.11L577.45 132.23L578.28 133.85L570.12 131.47L578.24 128.96L577.44 130.6L590.65 130.49L590.66 132.11ZM219.31 111.84L199.36 107.93L199.84 109.69L192.32 105.73L200.78 104.89L199.67 106.34L219.62 110.24L219.31 111.84ZM247.93 111.85L228.56 109.78L229.2 111.49L221.37 108.19L229.72 106.63L228.74 108.16L248.11 110.23L247.93 111.85ZM276.52 111.85L257.6 110.5L258.3 112.19L250.36 109.17L258.65 107.32L257.72 108.88L276.63 110.23L276.52 111.85ZM305.09 111.85L286.57 110.91L287.3 112.57L279.3 109.72L287.55 107.7L286.66 109.28L305.17 110.23L305.09 111.85ZM333.65 111.85L315.5 111.17L316.25 112.83L308.21 110.08L316.43 107.95L315.56 109.54L333.71 110.22L333.65 111.85ZM362.21 111.85L344.39 111.35L345.15 113L337.09 110.34L345.29 108.12L344.43 109.73L362.25 110.22L362.21 111.85ZM390.77 111.85L373.25 111.49L374.03 113.14L365.94 110.53L374.13 108.26L373.28 109.87L390.8 110.22L390.77 111.85ZM419.33 111.85L402.08 111.6L402.87 113.24L394.77 110.68L402.94 108.36L402.1 109.98L419.35 110.22L419.33 111.85ZM447.88 111.85L430.9 111.69L431.69 113.33L423.58 110.81L431.74 108.44L430.91 110.06L447.9 110.22L447.88 111.85ZM476.44 111.85L459.69 111.76L460.5 113.4L452.37 110.91L460.52 108.51L459.7 110.14L476.45 110.22L476.44 111.85ZM504.99 111.85L488.48 111.82L489.29 113.45L481.15 111L489.29 108.57L488.48 110.2L505 110.22L504.99 111.85ZM533.55 111.85L517.24 111.88L518.06 113.5L509.92 111.07L518.05 108.62L517.24 110.25L533.55 110.22L533.55 111.85ZM562.1 111.85L546 111.92L546.82 113.55L538.67 111.14L546.8 108.66L545.99 110.29L562.1 110.22L562.1 111.85ZM590.66 111.85L574.74 111.96L575.57 113.58L567.41 111.2L575.53 108.7L574.73 110.33L590.65 110.22L590.66 111.85ZM219.22 91.55L196.35 84.31L196.63 86.11L189.61 81.33L198.11 81.45L196.84 82.76L219.71 90L219.22 91.55ZM247.91 91.58L225.81 88.65L226.4 90.37L218.65 86.88L227.04 85.53L226.02 87.04L248.13 89.97L247.91 91.58ZM276.51 91.59L254.87 89.79L255.55 91.48L247.64 88.38L255.95 86.62L255.01 88.17L276.64 89.96L276.51 91.59ZM305.08 91.59L283.85 90.36L284.57 92.03L276.59 89.12L284.85 87.16L283.95 88.73L305.17 89.96L305.08 91.59ZM333.64 91.59L312.78 90.71L313.52 92.37L305.5 89.59L313.73 87.49L312.85 89.08L333.71 89.96L333.64 91.59ZM362.21 91.59L341.67 90.95L342.43 92.6L334.37 89.9L342.58 87.72L341.72 89.32L362.26 89.96L362.21 91.59ZM390.77 91.59L370.53 91.12L371.31 92.77L363.23 90.14L371.42 87.89L370.57 89.49L390.8 89.96L390.77 91.59ZM419.32 91.59L399.37 91.26L400.15 92.9L392.06 90.32L400.23 88.02L399.39 89.63L419.35 89.96L419.32 91.59ZM447.88 91.59L428.18 91.36L428.98 93L420.87 90.47L429.03 88.12L428.2 89.74L447.9 89.96L447.88 91.59ZM476.44 91.59L456.98 91.45L457.78 93.09L449.66 90.59L457.82 88.2L456.99 89.83L476.45 89.96L476.44 91.59ZM504.99 91.59L485.76 91.53L486.57 93.16L478.44 90.69L486.59 88.27L485.77 89.9L505 89.96L504.99 91.59ZM533.55 91.59L514.53 91.59L515.34 93.22L507.21 90.78L515.34 88.33L514.53 89.96L533.55 89.96L533.55 91.59ZM562.1 91.59L543.28 91.64L544.1 93.27L535.96 90.85L544.09 88.39L543.28 90.02L562.1 89.96L562.1 91.59ZM590.66 91.59L572.03 91.69L572.85 93.31L564.7 90.92L572.82 88.43L572.02 90.06L590.65 89.96L590.66 91.59ZM247.88 71.31L223.01 66.92L223.53 68.66L215.94 64.84L224.38 63.85L223.3 65.31L248.16 69.71L247.88 71.31ZM276.49 71.32L252.14 68.91L252.79 70.61L244.93 67.38L253.27 65.75L252.3 67.29L276.65 69.7L276.49 71.32ZM305.07 71.32L281.13 69.73L281.83 71.41L273.88 68.43L282.16 66.54L281.24 68.11L305.18 69.7L305.07 71.32ZM333.64 71.32L310.06 70.2L310.8 71.86L302.78 69.04L311.03 66.99L310.14 68.57L333.72 69.7L333.64 71.32ZM362.2 71.32L338.95 70.51L339.71 72.16L331.66 69.44L339.88 67.28L339.01 68.88L362.26 69.7L362.2 71.32ZM390.76 71.33L367.81 70.73L368.59 72.38L360.51 69.72L368.71 67.49L367.86 69.1L390.81 69.7L390.76 71.33ZM419.32 71.33L396.65 70.89L397.43 72.54L389.35 69.94L397.53 67.66L396.68 69.27L419.35 69.7L419.32 71.33ZM447.88 71.33L425.47 71.03L426.26 72.66L418.16 70.11L426.33 67.78L425.49 69.4L447.9 69.7L447.88 71.33ZM476.44 71.33L454.27 71.13L455.07 72.77L446.95 70.25L455.11 67.88L454.28 69.5L476.45 69.7L476.44 71.33ZM504.99 71.33L483.05 71.22L483.85 72.85L475.73 70.37L483.88 67.97L483.06 69.59L505 69.7L504.99 71.33ZM533.55 71.33L511.82 71.29L512.63 72.92L504.49 70.47L512.63 68.04L511.82 69.67L533.55 69.7L533.55 71.33ZM562.1 71.33L540.57 71.36L541.39 72.98L533.25 70.56L541.38 68.1L540.57 69.73L562.1 69.7L562.1 71.33ZM590.66 71.33L569.31 71.41L570.13 73.04L561.99 70.63L570.11 68.16L569.31 69.79L590.65 69.7L590.66 71.33ZM247.81 51.03L220.08 43.44L220.43 45.22L213.23 40.72L221.72 40.51L220.51 41.87L248.24 49.46L247.81 51.03ZM276.47 51.06L249.39 47.72L250 49.44L242.22 46.02L250.59 44.59L249.59 46.11L276.67 49.44L276.47 51.06ZM305.06 51.06L278.4 48.98L279.09 50.67L271.16 47.6L279.47 45.8L278.53 47.36L305.19 49.44L305.06 51.06ZM333.63 51.06L307.34 49.63L308.06 51.3L300.07 48.42L308.33 46.42L307.43 48L333.72 49.44L333.63 51.06ZM362.2 51.06L336.24 50.03L336.98 51.69L328.95 48.92L337.18 46.81L336.3 48.4L362.26 49.44L362.2 51.06ZM390.76 51.06L365.1 50.31L365.86 51.96L357.8 49.28L366.01 47.08L365.15 48.68L390.81 49.44L390.76 51.06ZM419.32 51.06L393.94 50.51L394.72 52.16L386.63 49.54L394.82 47.28L393.97 48.88L419.35 49.43L419.32 51.06ZM447.88 51.06L422.75 50.67L423.54 52.31L415.44 49.74L423.62 47.43L422.78 49.04L447.9 49.43L447.88 51.06ZM476.43 51.06L451.55 50.8L452.35 52.43L444.24 49.91L452.4 47.55L451.57 49.17L476.45 49.43L476.43 51.06ZM504.99 51.06L480.33 50.9L481.14 52.54L473.02 50.04L481.17 47.65L480.34 49.28L505 49.43L504.99 51.06ZM533.55 51.06L509.1 50.99L509.91 52.62L501.78 50.16L509.93 47.74L509.11 49.36L533.55 49.43L533.55 51.06ZM562.1 51.06L537.86 51.07L538.67 52.69L530.53 50.25L538.67 47.81L537.86 49.44L562.1 49.43L562.1 51.06ZM590.66 51.06L566.6 51.13L567.42 52.76L559.27 50.34L567.4 47.87L566.6 49.5L590.65 49.43L590.66 51.06ZM247.48 30.59L215.46 2.27L214.99 4.03L210.52 -3.2L218.23 0.37L216.54 1.05L248.56 29.38L247.48 30.59ZM276.44 30.79L246.6 25.94L247.15 27.67L239.51 23.96L247.93 22.85L246.87 24.33L276.7 29.18L276.44 30.79ZM305.05 30.8L275.67 28.06L276.33 29.75L268.45 26.57L276.78 24.89L275.82 26.43L305.2 29.18L305.05 30.8ZM333.63 30.8L304.62 28.97L305.33 30.65L297.36 27.7L305.63 25.77L304.72 27.35L333.73 29.17L333.63 30.8ZM362.19 30.8L333.52 29.5L334.26 31.16L326.24 28.36L334.48 26.29L333.59 27.87L362.27 29.17L362.19 30.8ZM390.76 30.8L362.38 29.85L363.14 31.51L355.09 28.79L363.3 26.63L362.44 28.23L390.81 29.17L390.76 30.8ZM419.32 30.8L391.22 30.11L392 31.75L383.92 29.11L392.12 26.87L391.26 28.48L419.36 29.17L419.32 30.8ZM447.87 30.8L420.04 30.3L420.82 31.94L412.73 29.35L420.91 27.06L420.07 28.67L447.9 29.17L447.87 30.8ZM476.43 30.8L448.84 30.45L449.63 32.09L441.53 29.54L449.69 27.21L448.86 28.82L476.45 29.17L476.43 30.8ZM504.99 30.8L477.62 30.57L478.42 32.21L470.3 29.7L478.46 27.33L477.63 28.95L505 29.17L504.99 30.8ZM533.54 30.8L506.39 30.68L507.19 32.31L499.07 29.83L507.22 27.43L506.4 29.05L533.55 29.17L533.54 30.8ZM562.1 30.8L535.14 30.77L535.96 32.39L527.82 29.94L535.96 27.51L535.15 29.14L562.1 29.17L562.1 30.8ZM590.65 30.8L563.89 30.84L564.7 32.47L556.56 30.04L564.7 27.58L563.88 29.21L590.65 29.17L590.65 30.8ZM276.38 10.51L243.71 2.53L244.12 4.31L236.79 0L245.28 -0.44L244.1 0.95L276.77 8.93L276.38 10.51ZM305.03 10.53L272.92 6.82L273.54 8.53L265.74 5.17L274.1 3.68L273.11 5.2L305.22 8.91L305.03 10.53ZM333.62 10.53L301.89 8.19L302.58 9.87L294.65 6.84L302.94 5L302.01 6.57L333.74 8.91L333.62 10.53ZM362.19 10.53L330.8 8.91L331.52 10.57L323.52 7.71L331.78 5.7L330.88 7.28L362.27 8.91L362.19 10.53ZM390.75 10.54L359.67 9.36L360.42 11.01L352.38 8.27L360.6 6.14L359.73 7.73L390.82 8.91L390.75 10.54ZM419.31 10.54L388.51 9.67L389.27 11.32L381.21 8.65L389.41 6.44L388.55 8.04L419.36 8.91L419.31 10.54ZM447.87 10.54L417.32 9.91L418.1 11.55L410.02 8.94L418.2 6.67L417.36 8.28L447.91 8.91L447.87 10.54ZM476.43 10.54L446.12 10.09L446.91 11.73L438.81 9.17L446.99 6.85L446.15 8.46L476.45 8.91L476.43 10.54ZM504.99 10.54L474.91 10.23L475.7 11.87L467.59 9.35L475.75 6.99L474.92 8.61L505 8.91L504.99 10.54ZM533.54 10.54L503.67 10.35L504.48 11.99L496.36 9.5L504.51 7.1L503.68 8.73L533.55 8.91L533.54 10.54ZM562.1 10.54L532.43 10.46L533.24 12.09L525.11 9.62L533.25 7.2L532.43 8.83L562.1 8.91L562.1 10.54ZM590.65 10.54L561.17 10.54L561.99 12.17L553.85 9.73L561.99 7.29L561.17 8.92L590.65 8.91L590.65 10.54Z"/>
<circle cx="394.48" cy="296.36" r="4.17" fill="#1f77b4" stroke="#1f77b4" stroke-width="1.39"/>
<path fill="#008000" d="M69.99 362L81.32 358.61L78.21 355.29L99.45 355.3L81.71 366.99L82.49 362.51L71.16 365.9L69.99 362ZM549.23 278.54L537.45 279.54L539.82 283.42L519.03 279.07L538.78 271.26L537.1 275.49L548.89 274.49L549.23 278.54Z"/>
<path fill="none" stroke="#ff0000" stroke-width="2.08" stroke-linejoin="round" stroke-linecap="square" d="M48.16 392.27L48.16 392.15L48.16 392.02L48.16 391.89L48.16 391.75L48.16 391.6L48.16 391.45L48.16 391.29L48.16 391.13L48.17 390.95L48.17 390.77L48.17 390.57L48.17 390.37L48.18 390.16L48.18 389.94L48.18 389.7L48.19 389.46L48.19 389.2L48.2 388.93L48.21 388.65L48.22 388.35L48.23 388.04L48.24 387.72L48.25 387.38L48.27 387.02L48.29 386.64L48.31 386.25L48.33 385.84L48.36 385.4L48.39 384.95L48.43 384.47L48.47 383.97L48.52 383.45L48.58 382.9L48.64 382.32L48.72 381.72L48.81 381.09L48.91 380.43L49.03 379.73L49.16 379L49.32 378.24L49.5 377.44L49.71 376.6L49.95 375.72L50.23 374.8L50.55 373.83L50.92 372.82L51.35 371.76L51.85 370.65L52.42 369.48L53.08 368.26L53.85 366.99L54.74 365.65L55.76 364.25L56.94 362.79L58.3 361.26L59.88 359.66L61.7 357.98L63.81 356.23L66.24 354.4L67.99 353.18L69.74 352.04L71.5 350.96L73.25 349.93L75.01 348.96L76.76 348.02L78.51 347.13L80.27 346.27L82.02 345.45L83.78 344.66L85.53 343.89L87.28 343.15L89.04 342.43L90.79 341.73L92.54 341.06L94.3 340.4L96.05 339.76L97.81 339.14L99.56 338.53L101.31 337.94L103.07 337.36L104.82 336.8L106.58 336.25L108.33 335.71L110.08 335.18L111.84 334.66L113.59 334.15L115.35 333.65L117.1 333.17L118.85 332.69L120.61 332.22L122.36 331.75L124.11 331.3L125.87 330.86L127.62 330.42L129.38 329.98L131.13 329.56L132.88 329.14L134.64 328.73L136.39 328.33L138.15 327.93L139.9 327.53L141.65 327.15L143.41 326.76L145.16 326.39L146.92 326.01L148.67 325.65L150.42 325.29L152.18 324.93L153.93 324.58L155.69 324.23L157.44 323.88L159.19 323.54L160.95 323.21L162.7 322.88L164.45 322.55L166.21 322.23L167.96 321.9L169.72 321.59L171.47 321.28L173.22 320.97L174.98 320.66L176.73 320.36L178.49 320.06L180.24 319.76L181.99 319.47L183.75 319.18L185.5 318.89L187.26 318.6L189.01 318.32L190.76 318.04L192.52 317.77L194.27 317.49L196.02 317.22L197.78 316.95L199.53 316.69L201.29 316.42L203.04 316.16L204.79 315.9L206.55 315.64L208.3 315.39L210.06 315.14L211.81 314.89L213.56 314.64L215.32 314.39L217.07 314.15L218.83 313.91L220.58 313.67L222.33 313.43L224.09 313.2L225.84 312.96L227.6 312.73L229.35 312.5L231.1 312.27L232.86 312.04L234.61 311.82L236.36 311.6L238.12 311.37L239.87 311.15L241.63 310.94L243.38 310.72L245.13 310.51L246.89 310.29L248.64 310.08L250.4 309.87L252.15 309.66L253.9 309.45L255.66 309.25L257.41 309.04L259.17 308.84L260.92 308.64L262.67 308.44L264.43 308.24L266.18 308.04L267.93 307.85L269.69 307.65L271.44 307.46L273.2 307.27L274.95 307.08L276.7 306.89L278.46 306.7L280.21 306.51L281.97 306.32L283.72 306.14L285.47 305.96L287.23 305.77L288.98 305.59L290.74 305.41L292.49 305.23L294.24 305.05L296 304.88L297.75 304.7L299.51 304.53L301.26 304.35L303.01 304.18L304.77 304.01L306.52 303.84L308.27 303.67L310.03 303.5L311.78 303.33L313.54 303.16L315.29 303L317.04 302.83L318.8 302.67L320.55 302.51L322.31 302.34L324.06 302.18L325.81 302.02L327.57 301.86L329.32 301.7L331.08 301.55L332.83 301.39L334.58 301.23L336.34 301.08L338.09 300.92L339.84 300.77L341.6 300.62L343.35 300.47L345.11 300.32L346.86 300.17L348.61 300.02L350.37 299.87L352.12 299.72L353.88 299.57L355.63 299.43L357.38 299.28L359.14 299.14L360.89 298.99L362.65 298.85L364.4 298.71L366.15 298.56L367.91 298.42L369.66 298.28L371.42 298.14L373.17 298L374.92 297.86L376.68 297.73L378.43 297.59L380.18 297.45L381.94 297.32L383.69 297.18L385.45 297.05L387.2 296.91L388.95 296.78L390.71 296.65L392.46 296.51L394.22 296.38L395.97 296.25L397.72 296.12L399.48 295.99L401.23 295.86L402.99 295.73L404.74 295.61L406.49 295.48L408.25 295.35L410 295.23L411.75 295.1L413.51 294.98L415.26 294.85L417.02 294.73L418.77 294.61L420.52 294.48L422.28 294.36L424.03 294.24L425.79 294.12L427.54 294L429.29 293.88L431.05 293.76L432.8 293.64L434.56 293.52L436.31 293.4L438.06 293.28L439.82 293.17L441.57 293.05L443.33 292.94L445.08 292.82L446.83 292.7L448.59 292.59L450.34 292.48L452.09 292.36L453.85 292.25L455.6 292.14L457.36 292.02L459.11 291.91L460.86 291.8L462.62 291.69L464.37 291.58L466.13 291.47L467.88 291.36L469.63 291.25L471.39 291.14L473.14 291.04L474.9 290.93L476.65 290.82L478.4 290.71L480.16 290.61L481.91 290.5L483.66 290.4L485.42 290.29L487.17 290.19L488.93 290.08L490.68 289.98L492.43 289.88L494.19 289.77L495.94 289.67L497.7 289.57L499.45 289.47L501.2 289.36L502.96 289.26L504.71 289.16L506.47 289.06L508.22 288.96L509.97 288.86L511.73 288.76L513.48 288.67L515.23 288.57L516.99 288.47L518.74 288.37L520.5 288.27L522.25 288.18L524 288.08L525.76 287.98L527.51 287.89L529.27 287.79L531.02 287.7L532.77 287.6L534.53 287.51L536.28 287.41L538.04 287.32L539.79 287.23L541.54 287.13L543.3 287.04L545.05 286.95L546.81 286.86L548.56 286.77L550.31 286.67L552.07 286.58L553.82 286.49L555.57 286.4L557.33 286.31L559.08 286.22L560.84 286.13L562.59 286.04L564.34 285.96L566.1 285.87L567.85 285.78L569.61 285.69L571.36 285.6L573.11 285.52L574.87 285.43L576.62 285.34L578.38 285.26L580.13 285.17L581.88 285.08L583.64 285L585.39 284.91L587.14 284.83L588.9 284.75L590.65 284.66"/>
<path fill="none" stroke="#0000ff" stroke-width="2.08" stroke-linejoin="round" stroke-linecap="square" d="M48.15 886.28L49.97 864.64L51.78 857.2L53.6 851.23L55.41 845.97L57.22 841.14L59.04 836.6L60.85 832.27L62.67 828.11L64.48 824.08L66.3 820.16L68.11 816.33L69.93 812.58L71.74 808.89L73.55 805.27L75.37 801.69L77.18 798.16L79 794.67L80.81 791.22L82.63 787.8L84.44 784.42L86.25 781.06L88.07 777.73L89.88 774.42L91.7 771.14L93.51 767.87L95.33 764.63L97.14 761.4L98.96 758.19L100.77 755L102.58 751.82L104.4 748.66L106.21 745.51L108.03 742.37L109.84 739.25L111.66 736.14L113.47 733.04L115.28 729.95L117.1 726.87L118.91 723.8L120.73 720.73L122.54 717.68L124.36 714.64L126.17 711.6L127.99 708.58L129.8 705.56L131.61 702.54L133.43 699.54L135.24 696.54L137.06 693.55L138.87 690.56L140.69 687.58L142.5 684.61L144.31 681.64L146.13 678.68L147.94 675.72L149.76 672.77L151.57 669.82L153.39 666.88L155.2 663.94L157.02 661.01L158.83 658.08L160.64 655.16L162.46 652.24L164.27 649.33L166.09 646.42L167.9 643.51L169.72 640.61L171.53 637.71L173.35 634.81L175.16 631.92L176.97 629.03L178.79 626.15L180.6 623.27L182.42 620.39L184.23 617.51L186.05 614.64L187.86 611.77L189.67 608.91L191.49 606.04L193.3 603.18L195.12 600.32L196.93 597.47L198.75 594.62L200.56 591.77L202.38 588.92L204.19 586.08L206 583.24L207.82 580.4L209.63 577.56L211.45 574.73L213.26 571.89L215.08 569.06L216.89 566.24L218.7 563.41L220.52 560.59L222.33 557.77L224.15 554.95L225.96 552.13L227.78 549.32L229.59 546.5L231.41 543.69L233.22 540.88L235.03 538.07L236.85 535.27L238.66 532.46L240.48 529.66L242.29 526.86L244.11 524.06L245.92 521.27L247.73 518.47L249.55 515.68L251.36 512.89L253.18 510.1L254.99 507.31L256.81 504.52L258.62 501.73L260.44 498.95L262.25 496.17L264.06 493.39L265.88 490.61L267.69 487.83L269.51 485.05L271.32 482.28L273.14 479.5L274.95 476.73L276.76 473.96L278.58 471.19L280.39 468.42L282.21 465.65L284.02 462.88L285.84 460.12L287.65 457.36L289.47 454.59L291.28 451.83L293.09 449.07L294.91 446.31L296.72 443.55L298.54 440.8L300.35 438.04L302.17 435.29L303.98 432.53L305.79 429.78L307.61 427.03L309.42 424.28L311.24 421.53L313.05 418.78L314.87 416.04L316.68 413.29L318.5 410.55L320.31 407.8L322.12 405.06L323.94 402.32L325.75 399.57L327.57 396.83L329.38 394.1L331.2 391.36L333.01 388.62L334.83 385.88L336.64 383.15L338.45 380.41L340.27 377.68L342.08 374.95L343.9 372.21L345.71 369.48L347.53 366.75L349.34 364.02L351.15 361.29L352.97 358.57L354.78 355.84L356.6 353.11L358.41 350.39L360.23 347.66L362.04 344.94L363.86 342.22L365.67 339.49L367.48 336.77L369.3 334.05L371.11 331.33L372.93 328.61L374.74 325.89L376.56 323.17L378.37 320.46L380.18 317.74L382 315.02L383.81 312.31L385.63 309.6L387.44 306.88L389.26 304.17L391.07 301.46L392.89 298.74L394.7 296.03L396.51 293.32L398.33 290.61L400.14 287.9L401.96 285.2L403.77 282.49L405.59 279.78L407.4 277.07L409.21 274.37L411.03 271.66L412.84 268.96L414.66 266.25L416.47 263.55L418.29 260.85L420.1 258.15L421.92 255.44L423.73 252.74L425.54 250.04L427.36 247.34L429.17 244.64L430.99 241.94L432.8 239.24L434.62 236.55L436.43 233.85L438.24 231.15L440.06 228.46L441.87 225.76L443.69 223.07L445.5 220.37L447.32 217.68L449.13 214.98L450.95 212.29L452.76 209.6L454.57 206.91L456.39 204.21L458.2 201.52L460.02 198.83L461.83 196.14L463.65 193.45L465.46 190.76L467.27 188.08L469.09 185.39L470.9 182.7L472.72 180.01L474.53 177.33L476.35 174.64L478.16 171.95L479.98 169.27L481.79 166.58L483.6 163.9L485.42 161.22L487.23 158.53L489.05 155.85L490.86 153.17L492.68 150.48L494.49 147.8L496.3 145.12L498.12 142.44L499.93 139.76L501.75 137.08L503.56 134.4L505.38 131.72L507.19 129.04L509.01 126.36L510.82 123.69L512.63 121.01L514.45 118.33L516.26 115.65L518.08 112.98L519.89 110.3L521.71 107.63L523.52 104.95L525.34 102.28L527.15 99.6L528.96 96.93L530.78 94.25L532.59 91.58L534.41 88.91L536.22 86.24L538.04 83.56L539.85 80.89L541.66 78.22L543.48 75.55L545.29 72.88L547.11 70.21L548.92 67.54L550.74 64.87L552.55 62.2L554.37 59.53L556.18 56.86L557.99 54.19L559.81 51.52L561.62 48.86L563.44 46.19L565.25 43.52L567.07 40.86L568.88 38.19L570.69 35.52L572.51 32.86L574.32 30.19L576.14 27.53L577.95 24.86L579.77 22.2L581.58 19.54L583.4 16.87L585.21 14.21L587.02 11.55L588.84 8.88L590.65 6.22"/>
<path fill="none" stroke="#008000" stroke-width="2.08" stroke-linejoin="round" stroke-linecap="square" d="M48.16 392.55L48.16 392.4L48.16 392.24L48.16 392.07L48.16 391.89L48.16 391.69L48.17 391.49L48.17 391.27L48.17 391.03L48.18 390.79L48.18 390.52L48.19 390.24L48.2 389.95L48.21 389.63L48.23 389.29L48.25 388.94L48.27 388.56L48.3 388.15L48.34 387.73L48.38 387.27L48.44 386.79L48.51 386.27L48.59 385.72L48.7 385.14L48.84 384.51L49 383.85L49.21 383.13L49.47 382.37L49.79 381.55L50.19 380.66L50.69 379.71L51.3 378.68L52.07 377.56L53.03 376.35L54.22 375.02L55.7 373.58L57.54 372L59.84 370.26L62.69 368.35L66.24 366.24L69.76 364.35L73.28 362.63L76.79 361.02L80.31 359.52L83.83 358.1L87.35 356.74L90.87 355.45L94.39 354.21L97.91 353.01L101.43 351.86L104.95 350.74L108.47 349.66L111.99 348.6L115.51 347.58L119.03 346.58L122.55 345.6L126.07 344.65L129.59 343.71L133.11 342.8L136.63 341.9L140.15 341.02L143.67 340.15L147.19 339.3L150.71 338.46L154.23 337.64L157.75 336.83L161.26 336.03L164.78 335.24L168.3 334.46L171.82 333.69L175.34 332.93L178.86 332.19L182.38 331.45L185.9 330.72L189.42 330L192.94 329.28L196.46 328.58L199.98 327.88L203.5 327.19L207.02 326.5L210.54 325.82L214.06 325.15L217.58 324.49L221.1 323.83L224.62 323.18L228.14 322.53L231.66 321.89L235.18 321.25L238.7 320.62L242.21 319.99L245.73 319.37L249.25 318.75L252.77 318.14L256.29 317.54L259.81 316.93L263.33 316.33L266.85 315.74L270.37 315.15L273.89 314.56L277.41 313.98L280.93 313.4L284.45 312.83L287.97 312.26L291.49 311.69L295.01 311.12L298.53 310.56L302.05 310.01L305.57 309.45L309.09 308.9L312.61 308.35L316.13 307.81L319.65 307.27L323.17 306.73L326.68 306.19L330.2 305.66L333.72 305.13L337.24 304.6L340.76 304.08L344.28 303.55L347.8 303.03L351.32 302.52L354.84 302L358.36 301.49L361.88 300.98L365.4 300.47L368.92 299.97L372.44 299.46L375.96 298.96L379.48 298.46L383 297.97L386.52 297.47L390.04 296.98L393.56 296.49L397.08 296L400.6 295.52L404.12 295.03L407.63 294.55L411.15 294.07L414.67 293.59L418.19 293.12L421.71 292.64L425.23 292.17L428.75 291.7L432.27 291.23L435.79 290.76L439.31 290.29L442.83 289.83L446.35 289.37L449.87 288.91L453.39 288.45L456.91 287.99L460.43 287.53L463.95 287.08L467.47 286.63L470.99 286.18L474.51 285.73L478.03 285.28L481.55 284.83L485.07 284.38L488.59 283.94L492.1 283.5L495.62 283.06L499.14 282.62L502.66 282.18L506.18 281.74L509.7 281.3L513.22 280.87L516.74 280.44L520.26 280L523.78 279.57L527.3 279.14L530.82 278.71L534.34 278.29L537.86 277.86L541.38 277.44L544.9 277.01L548.42 276.59L551.94 276.17L555.46 275.75L558.98 275.33L562.5 274.91L566.02 274.5L569.54 274.08L573.05 273.67L576.57 273.25L580.09 272.84L583.61 272.43L587.13 272.02L590.65 271.61"/>
</g>
<path fill="none" stroke="#000" stroke-width="1.11" stroke-linecap="square" stroke-linejoin="miter" d="M48.5 10.5H591.5V395.5H48.5Z"/>
<path fill="none" stroke="#000" stroke-width="1.11" d="M48.5 395.5v5M120.5 395.5v5M193.5 395.5v5M265.5 395.5v5M337.5 395.5v5M410.5 395.5v5M482.5 395.5v5M554.5 395.5v5M48.5 395.5h-5M48.5 343.5h-5M48.5 292.5h-5M48.5 241.5h-5M48.5 189.5h-5M48.5 138.5h-5M48.5 87.5h-5M48.5 35.5h-5"/>
<text x="49.353" y="416.088" text-anchor="middle">0</text>
<text x="120.436" y="415.988" text-anchor="middle">2</text>
<text x="193.319" y="415.928" text-anchor="middle">4</text>
<text x="265.393" y="416.108" text-anchor="middle">6</text>
<text x="337.566" y="416.048" text-anchor="middle">8</text>
<text x="410.379" y="416.038" text-anchor="middle">10</text>
<text x="482.233" y="415.988" text-anchor="middle">12</text>
<text x="554.296" y="415.958" text-anchor="middle">14</text>
<text x="314.079" y="434.999" class="i">K</text>
<text x="39.871" y="400.089" text-anchor="end">0</text>
<text x="39.021" y="348.656" text-anchor="end">1</text>
<text x="38.901" y="298.322" text-anchor="end">2</text>
<text x="39.021" y="245.959" text-anchor="end">3</text>
<text x="38.931" y="194.596" text-anchor="end">4</text>
<text x="38.911" y="144.412" text-anchor="end">5</text>
<text x="38.921" y="92.109" text-anchor="end">6</text>
<text x="38.971" y="40.766" text-anchor="end">7</text>
<text transform="translate(20.417 208.203) rotate(-90)" class="i">C</text>
<text x="65.736" y="121.553" letter-spacing="-0.11">infeasible</text>
<text x="66.236" y="138.076" letter-spacing="-0.09"> consumption</text>
<text x="475.839" y="189.085" class="i" fill="#0000ff">C</text>
<text x="502.586" y="189.085" class="i" fill="#0000ff">C</text>
<text x="517.103" y="189.085" class="i" fill="#0000ff">K</text>
<text x="488.243" y="189.085" fill="#0000ff">=</text>
<text x="511.945" y="185.917" fill="#0000ff">̃</text>
<text x="511.684" y="189.085" fill="#0000ff">(</text>
<text x="526.211" y="189.085" fill="#0000ff">)</text>
<text x="120.976" y="317.614" class="i" fill="#ff0000">K</text>
<text x="147.133" y="317.614" class="i" fill="#ff0000">K</text>
<text x="161.509" y="317.614" class="i" fill="#ff0000">C</text>
<text x="132.79" y="317.614" fill="#ff0000">=</text>
<text x="156.644" y="314.619" fill="#ff0000">̃</text>
<text x="156.09" y="317.614" fill="#ff0000">(</text>
<text x="171.207" y="317.614" fill="#ff0000">)</text>
<text x="482.203" y="267.399" fill="#008000">stable branch</text>
<text x="351.649" y="285.562">(</text>
<text x="370.62" y="285.562">,</text>
<text x="393.884" y="285.562">)</text>
<text x="357.067" y="285.562" class="i">K</text>
<text x="378.741" y="285.562" class="i">C</text>
<text x="366.175" y="287.841" style="font-size:9.722px" class="i">s</text>
<text x="388.439" y="287.841" style="font-size:9.722px" class="i">s</text>
</svg></body></html>
